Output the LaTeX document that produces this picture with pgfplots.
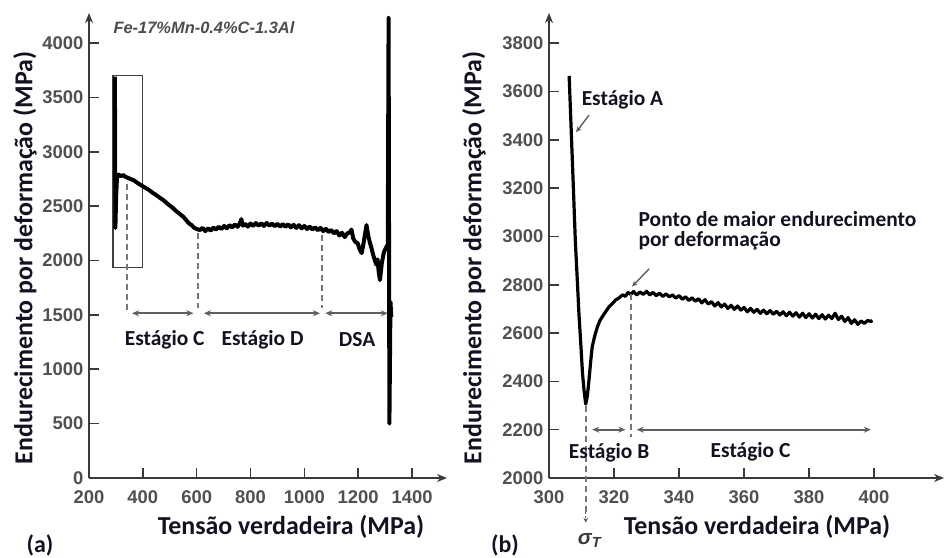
\documentclass[border=0pt]{standalone}
\usepackage{pgfplots}
\pgfplotsset{compat=1.18}
\usepackage{fontspec}
\setmainfont{Carlito}
\newfontfamily\tickfont{Liberation Sans}
\usetikzlibrary{arrows.meta}
\definecolor{axgray}{HTML}{3A3A3A}
\definecolor{tkgray}{HTML}{505050}
\definecolor{angray}{HTML}{5E5E5E}
\definecolor{txt}{HTML}{121222}

\pgfplotsset{myax/.style={
  scale only axis, axis lines=left,
  axis line style={line width=2bp, draw=axgray, -{Stealth[length=10bp,width=8bp]}},
  tick style={line width=1.6bp, draw=axgray},
  major tick length=10bp, tick align=inside,
  ticklabel style={font=\tickfont\bfseries\fontsize{18.5}{18.5}\selectfont, text=tkgray},
  xticklabel style={yshift=-9bp},
  yticklabel style={xshift=-2bp},
  /pgf/number format/assume math mode=true,
  /pgf/number format/1000 sep={},
  clip=false,
}}
\tikzset{
  lab/.style={font=\bfseries\fontsize{21.5}{23}\selectfont, text=txt},
  big/.style={font=\bfseries\fontsize{26}{28}\selectfont, text=txt},
  dbl/.style={line width=1.8bp, draw=angray, {Stealth[length=7bp,width=6bp]}-{Stealth[length=7bp,width=6bp]}},
  dsh/.style={line width=2bp, draw=angray!85, dash pattern=on 6bp off 4bp},
  sarr/.style={line width=1.4bp, draw=angray, -{Stealth[length=6bp,width=5bp]}},
}

\begin{document}
\begin{tikzpicture}
\useasboundingbox (0,0) rectangle (944bp,558bp);

% ---------- (a) ----------
\begin{axis}[myax,
  at={(89bp,80bp)}, anchor=south west,
  width=358bp, height=465bp,
  xmin=200, xmax=1530, ymin=0, ymax=4276,
  xtick={200,400,...,1400}, ytick={0,500,...,4000},
]
\draw[line width=1.2bp, draw=black!75] (axis cs:289,1936) rectangle (axis cs:400,3703);
\addplot[line width=4bp, black, line join=round] coordinates {
(296,3690)(297,3200)(298,2300)(301,2600)(304,2760)(310,2790)(318,2775)(327,2786)
(335,2770)(345,2760)(355,2748)(365,2740)(375,2722)(385,2705)(395,2690)(402,2679)
(412,2665)(422,2650)(432,2632)(439,2618)(448,2605)(457,2588)(466,2572)(476,2556)
(485,2536)(495,2515)(505,2496)(513,2480)(522,2458)(532,2438)(541,2420)(550,2403)
(558,2380)(566,2356)(574,2336)(581,2326)(590,2302)(600,2290)(612,2280)
(622,2300)(632,2270)(642,2295)(652,2275)(662,2302)(672,2285)(682,2310)(692,2290)
(702,2318)(712,2296)(722,2325)(732,2305)(742,2330)(752,2310)(760,2340)(766,2380)
(772,2320)(780,2338)(790,2312)(800,2340)(810,2318)(820,2345)(830,2320)(840,2342)
(850,2318)(860,2345)(870,2320)(880,2340)(890,2315)(900,2338)(910,2312)(920,2335)
(930,2310)(940,2332)(950,2305)(960,2328)(970,2300)(980,2325)(990,2296)(1000,2318)
(1010,2290)(1020,2312)(1030,2285)(1040,2305)(1050,2278)(1060,2300)(1070,2270)
(1080,2292)(1090,2262)(1100,2280)(1110,2250)(1120,2270)(1130,2230)(1140,2255)
(1150,2215)(1160,2250)(1170,2260)(1175,2285)(1182,2200)(1190,2170)(1198,2160)
(1206,2100)(1213,2068)(1220,2160)(1226,2250)(1231,2326)(1237,2230)(1244,2160)
(1250,2110)(1256,2050)(1262,2000)(1268,1960)(1272,2010)(1276,1900)(1281,1820)
(1288,1980)(1296,2080)(1304,2120)(1310,2150)(1313,4230)(1316,500)(1320,1620)(1323,1480)
};
\draw[dsh] (axis cs:341,2700) -- (axis cs:341,1545);
\draw[dsh] (axis cs:604,2250) -- (axis cs:604,1560);
\draw[dsh] (axis cs:1067,2230) -- (axis cs:1067,1560);
\draw[dbl] (axis cs:360,1515) -- (axis cs:588,1515);
\draw[dbl] (axis cs:627,1515) -- (axis cs:1058,1515);
\draw[dbl] (axis cs:1078,1515) -- (axis cs:1310,1515);
\node[lab] at (axis cs:481,1270) {Estágio C};
\node[lab] at (axis cs:845,1270) {Estágio D};
\node[lab] at (axis cs:1196,1270) {DSA};
\end{axis}

% ---------- (b) ----------
\begin{axis}[myax,
  at={(549bp,80bp)}, anchor=south west,
  width=395bp, height=465bp,
  xmin=300, xmax=421.5, ymin=2000, ymax=3925,
  xtick={300,320,...,400}, ytick={2000,2200,...,3800},
]
\addplot[line width=3.2bp, black, line join=round] coordinates {
(306.2,3665)(306.8,3450)(307.5,3200)(308.1,2980)(308.7,2820)(309.2,2682)(309.8,2550)
(310.3,2434)(310.8,2360)(311.3,2306)(311.8,2340)(312.3,2406)(312.8,2480)(313.3,2544)
(314.1,2590)(314.9,2626)(315.6,2650)(316.4,2668)(317.5,2690)(318.5,2709)(319.5,2722)
(320.5,2737)(321.5,2745)(322.6,2758)(323.5,2752)(324.3,2768)(325.1,2760)(326,2772)
(327,2758)(328,2770)(329,2760)(330,2773)(331,2758)(332,2768)(333,2755)(334,2765)
(335,2752)(336,2762)(337,2750)(338,2758)(339,2745)(340,2755)(341,2740)(342,2750)
(343,2735)(344,2746)(345,2732)(346,2742)(347,2725)(348,2738)(349,2720)(350,2730)
(351,2712)(352,2726)(353,2708)(354,2720)(355,2702)(356,2715)(357,2698)(358,2712)
(359,2695)(360,2706)(361,2688)(362,2702)(363,2686)(364,2698)(365,2682)(366,2695)
(367,2680)(368,2693)(369,2678)(370,2690)(371,2675)(372,2688)(373,2672)(374,2686)
(375,2670)(376,2684)(377,2666)(378,2682)(379,2664)(380,2680)(381,2662)(382,2678)
(383,2660)(384,2676)(385,2658)(386,2674)(387,2660)(388,2682)(389,2656)(390,2670)
(391,2648)(392,2664)(393,2640)(394,2655)(395,2636)(396,2650)(397,2640)(398,2652)
(399,2648)(399.5,2652)
};
\draw[dsh] (axis cs:311.3,2300) -- (axis cs:311.3,1860);
\draw[line width=1.2bp, draw=angray, dash pattern=on 2bp off 2bp, -{Stealth[length=5bp,width=5bp]}] (axis cs:311.3,1860) -- (axis cs:311.3,1815);
\draw[dsh] (axis cs:325.2,2760) -- (axis cs:325.2,2170);
\draw[dbl] (axis cs:313.3,2200) -- (axis cs:323.5,2200);
\draw[dbl] (axis cs:327,2200) -- (axis cs:399,2200);
\node[lab] at (axis cs:318.5,2105) {Estágio B};
\node[lab] at (axis cs:362,2110) {Estágio C};
\node[lab, anchor=west] at (axis cs:309.0,3564) {Estágio A};
\draw[sarr] (axis cs:312.3,3502) -- (axis cs:308.3,3431);
\node[lab, anchor=west] at (axis cs:326.5,3070) {Ponto de maior endurecimento};
\node[lab, anchor=west] at (axis cs:326.5,2981) {por deformação};
\draw[sarr] (axis cs:330.8,2866) -- (axis cs:325.5,2792);
\node[font=\tickfont\bfseries\itshape\fontsize{21}{21}\selectfont, text=axgray] at (axis cs:312.5,1743) {σ\textsubscript{T}};
\end{axis}

% ---------- labels ----------
\node[font=\tickfont\bfseries\itshape\fontsize{16.5}{16.5}\selectfont, text=black!70, anchor=west] at (110bp,530bp) {Fe-17\%Mn-0.4\%C-1.3Al};
\node[big] at (291bp,31bp) {Tensão verdadeira (MPa)};
\node[big] at (757bp,31bp) {Tensão verdadeira (MPa)};
\node[big, rotate=90] at (25bp,300bp) {Endurecimento por deformação (MPa)};
\node[big, rotate=90] at (474bp,300bp) {Endurecimento por deformação (MPa)};
\node[font=\bfseries\fontsize{24}{26}\selectfont, text=txt] at (40bp,13bp) {(a)};
\node[font=\bfseries\fontsize{24}{26}\selectfont, text=txt] at (505bp,13bp) {(b)};
\end{tikzpicture}
\end{document}
